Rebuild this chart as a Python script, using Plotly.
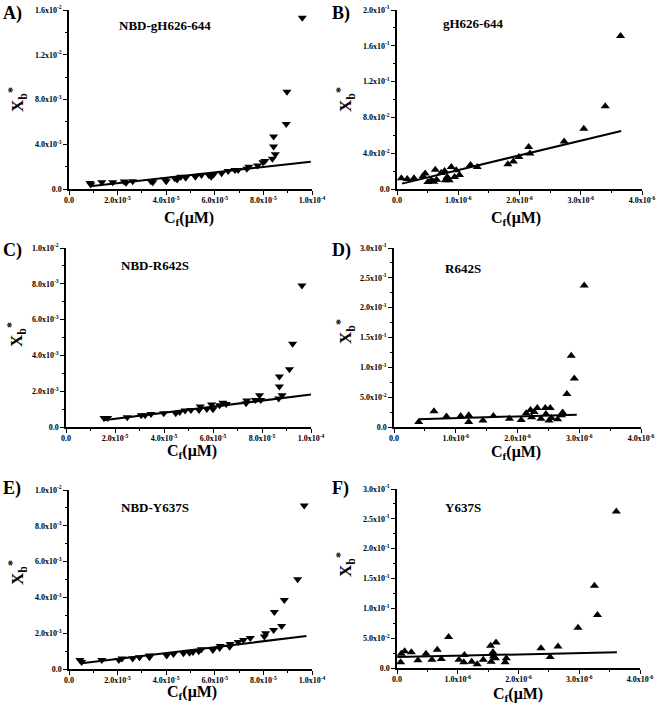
import plotly.graph_objects as go

# ---------------- data ----------------
panel_letters = ["A)", "B)", "C)", "D)", "E)", "F)"]
panel_titles = ["NBD-gH626-644", "gH626-644", "NBD-R642S", "R642S", "NBD-Y637S", "Y637S"]

a_x = [0.865e-5, 0.9e-5, 1.35e-5, 1.8e-5, 2.27e-5, 2.35e-5, 2.62e-5, 3.37e-5, 3.45e-5, 3.95e-5,
       4.0e-5, 4.35e-5, 4.45e-5, 4.6e-5, 4.8e-5, 5.2e-5, 5.45e-5, 5.75e-5, 5.85e-5, 5.95e-5,
       6.28e-5, 6.55e-5, 6.83e-5, 6.96e-5, 7.32e-5, 7.4e-5, 7.76e-5, 7.98e-5, 8.06e-5, 8.37e-5,
       8.42e-5, 8.42e-5, 8.49e-5, 8.94e-5, 8.97e-5, 9.6e-5]
a_y = [0.00054, 0.0004, 0.0006, 0.0006, 0.00066, 0.00055, 0.0007, 0.0007, 0.0006, 0.00084,
       0.0007, 0.00095, 0.00084, 0.0011, 0.001, 0.0011, 0.00125, 0.00125, 0.0011, 0.0013,
       0.0014, 0.0016, 0.0017, 0.0017, 0.0018, 0.002, 0.0021, 0.0024, 0.0025, 0.0027,
       0.0038, 0.0047, 0.0031, 0.0058, 0.0087, 0.0153]

b_x = [0.07e-6, 0.168e-6, 0.277e-6, 0.424e-6, 0.46e-6, 0.505e-6, 0.56e-6, 0.6e-6, 0.625e-6, 0.647e-6,
       0.72e-6, 0.777e-6, 0.788e-6, 0.82e-6, 0.853e-6, 0.886e-6, 0.94e-6, 0.967e-6, 1.02e-6, 1.2e-6,
       1.31e-6, 1.81e-6, 1.9e-6, 1.99e-6, 2.15e-6, 2.17e-6, 2.73e-6, 3.05e-6, 3.4e-6, 3.65e-6]
b_y = [0.0119, 0.0112, 0.0119, 0.0142, 0.0172, 0.0078, 0.0097, 0.0082, 0.0216, 0.0104,
       0.0179, 0.0201, 0.0097, 0.0134, 0.0097, 0.0246, 0.0134, 0.0209, 0.0157, 0.0269,
       0.0246, 0.0276, 0.0306, 0.0358, 0.047, 0.0396, 0.053, 0.0672, 0.0925, 0.1709]

c_x = [1.55e-5, 1.7e-5, 2.5e-5, 3.07e-5, 3.23e-5, 3.47e-5, 3.99e-5, 4.48e-5, 4.64e-5, 4.86e-5,
       5.1e-5, 5.43e-5, 5.48e-5, 5.75e-5, 5.94e-5, 6.0e-5, 6.27e-5, 6.4e-5, 6.54e-5, 7.35e-5,
       7.38e-5, 7.73e-5, 7.9e-5, 7.95e-5, 8.68e-5, 8.71e-5, 8.71e-5, 8.82e-5, 9.12e-5, 9.25e-5,
       9.63e-5]
c_y = [0.0005, 0.0005, 0.00054, 0.00065, 0.00065, 0.00073, 0.00077, 0.00077, 0.00084, 0.00092,
       0.00095, 0.00095, 0.00114, 0.001, 0.00125, 0.00099, 0.00121, 0.00136, 0.00129, 0.00133,
       0.00148, 0.00151, 0.00178, 0.00151, 0.00159, 0.00226, 0.00282, 0.00178, 0.00323, 0.00465,
       0.0079]

d_x = [0.4e-6, 0.647e-6, 0.85e-6, 1.08e-6, 1.21e-6, 1.21e-6, 1.44e-6, 1.61e-6, 1.87e-6, 2.06e-6,
       2.14e-6, 2.21e-6, 2.23e-6, 2.27e-6, 2.32e-6, 2.38e-6, 2.45e-6, 2.46e-6, 2.51e-6, 2.53e-6,
       2.55e-6, 2.65e-6, 2.71e-6, 2.73e-6, 2.8e-6, 2.87e-6, 2.92e-6, 3.08e-6]
d_y = [0.0084, 0.0264, 0.0174, 0.0185, 0.0196, 0.0084, 0.0107, 0.0185, 0.014, 0.0118,
       0.023, 0.0286, 0.0163, 0.0252, 0.032, 0.014, 0.032, 0.0219, 0.0107, 0.032,
       0.0151, 0.0129, 0.0196, 0.0241, 0.0555, 0.1194, 0.0813, 0.2372]

e_x = [0.45e-5, 0.52e-5, 1.35e-5, 2.05e-5, 2.18e-5, 2.62e-5, 2.9e-5, 3.31e-5, 3.31e-5, 4.02e-5,
       4.3e-5, 4.71e-5, 4.96e-5, 5.1e-5, 5.34e-5, 5.45e-5, 5.92e-5, 6.2e-5, 6.22e-5, 6.61e-5,
       6.63e-5, 6.96e-5, 7.18e-5, 7.46e-5, 8.04e-5, 8.09e-5, 8.42e-5, 8.45e-5, 8.75e-5, 8.86e-5,
       9.41e-5, 9.68e-5]
e_y = [0.0005, 0.00039, 0.0005, 0.0005, 0.00058, 0.00058, 0.00065, 0.00076, 0.00065, 0.00076,
       0.00084, 0.00088, 0.00091, 0.00095, 0.00099, 0.0011, 0.00106, 0.00117, 0.00128, 0.00125,
       0.0014, 0.00151, 0.00162, 0.00173, 0.00181, 0.002, 0.00218, 0.00318, 0.0024, 0.00385,
       0.00501, 0.00914]

f_x = [0.06e-6, 0.07e-6, 0.126e-6, 0.236e-6, 0.345e-6, 0.477e-6, 0.575e-6, 0.663e-6, 0.729e-6, 0.849e-6,
       1.02e-6, 1.1e-6, 1.11e-6, 1.23e-6, 1.32e-6, 1.42e-6, 1.54e-6, 1.55e-6, 1.58e-6, 1.59e-6,
       1.62e-6, 1.63e-6, 1.78e-6, 1.8e-6, 2.37e-6, 2.52e-6, 2.65e-6, 2.98e-6, 3.25e-6, 3.3e-6,
       3.61e-6]
f_y = [0.0095, 0.024, 0.0279, 0.0262, 0.0128, 0.024, 0.0139, 0.0307, 0.0151, 0.0519,
       0.0139, 0.0095, 0.0217, 0.0106, 0.0061, 0.0139, 0.0374, 0.0106, 0.0262, 0.0195,
       0.0162, 0.0429, 0.0095, 0.0162, 0.0329, 0.0184, 0.0362, 0.0675, 0.1377, 0.0887,
       0.2621]

# linear fits (intercept, slope) and fitted x-span
fit_intercept = [0.000031, 0.00466, 0.000116, 0.01168, 0.000231, 0.0184]
fit_slope = [24.2, 16460.0, 16.97, 3047.0, 16.5, 2158.0]
fit_x_start = [0.865e-5, 0.0815e-6, 1.52e-5, 0.4e-6, 0.52e-5, 0.005e-6]
fit_x_end = [9.95e-5, 3.66e-6, 1.0e-4, 2.96e-6, 9.77e-5, 3.62e-6]

# tick labels
xt_nbd_vals = [0, 2e-5, 4e-5, 6e-5, 8e-5, 1e-4]
xt_nbd_text = ["0.0", "2.0x10<sup>-5</sup>", "4.0x10<sup>-5</sup>", "6.0x10<sup>-5</sup>",
               "8.0x10<sup>-5</sup>", "1.0x10<sup>-4</sup>"]
xt_pep_vals = [0, 1e-6, 2e-6, 3e-6, 4e-6]
xt_pep_text = ["0.0", "1.0x10<sup>-6</sup>", "2.0x10<sup>-6</sup>", "3.0x10<sup>-6</sup>",
               "4.0x10<sup>-6</sup>"]
yt_a_vals = [0, 0.004, 0.008, 0.012, 0.016]
yt_a_text = ["0.0", "4.0x10<sup>-3</sup>", "8.0x10<sup>-3</sup>", "1.2x10<sup>-2</sup>",
             "1.6x10<sup>-2</sup>"]
yt_b_vals = [0, 0.04, 0.08, 0.12, 0.16, 0.2]
yt_b_text = ["0.0", "4.0x10<sup>-2</sup>", "8.0x10<sup>-2</sup>", "1.2x10<sup>-1</sup>",
             "1.6x10<sup>-1</sup>", "2.0x10<sup>-1</sup>"]
yt_ce_vals = [0, 0.002, 0.004, 0.006, 0.008, 0.01]
yt_ce_text = ["0.0", "2.0x10<sup>-3</sup>", "4.0x10<sup>-3</sup>", "6.0x10<sup>-3</sup>",
              "8.0x10<sup>-3</sup>", "1.0x10<sup>-2</sup>"]
yt_df_vals = [0, 0.05, 0.1, 0.15, 0.2, 0.25, 0.3]
yt_df_text = ["0.0", "5.0x10<sup>-2</sup>", "1.0x10<sup>-1</sup>", "1.5x10<sup>-1</sup>",
              "2.0x10<sup>-1</sup>", "2.5x10<sup>-1</sup>", "3.0x10<sup>-1</sup>"]

# ---------------- layout geometry (pixels) ----------------
W, H = 656, 705
FONT = "Liberation Serif, Times New Roman, serif"

panels = [
    dict(x=a_x, y=a_y, sym="triangle-down", xr=[0, 1e-4], yr=[0, 0.016],
         xt=(xt_nbd_vals, xt_nbd_text), yt=(yt_a_vals, yt_a_text),
         box=(69, 312, 10, 189), letter=(1, 13), title=(165, 25), ylab=(18, 100), xlab=(189, 218)),
    dict(x=b_x, y=b_y, sym="triangle-up", xr=[0, 4e-6], yr=[0, 0.2],
         xt=(xt_pep_vals, xt_pep_text), yt=(yt_b_vals, yt_b_text),
         box=(397, 642, 10, 189), letter=(330, 13), title=(473, 23), ylab=(346, 100), xlab=(516, 218)),
    dict(x=c_x, y=c_y, sym="triangle-down", xr=[0, 1e-4], yr=[0, 0.01],
         xt=(xt_nbd_vals, xt_nbd_text), yt=(yt_ce_vals, yt_ce_text),
         box=(66, 311, 248, 427), letter=(1, 250), title=(155, 265), ylab=(16, 335), xlab=(192, 451)),
    dict(x=d_x, y=d_y, sym="triangle-up", xr=[0, 4e-6], yr=[0, 0.3],
         xt=(xt_pep_vals, xt_pep_text), yt=(yt_df_vals, yt_df_text),
         box=(394, 641, 248, 427), letter=(330, 250), title=(463, 268), ylab=(345, 332), xlab=(516, 452)),
    dict(x=e_x, y=e_y, sym="triangle-down", xr=[0, 1e-4], yr=[0, 0.01],
         xt=(xt_nbd_vals, xt_nbd_text), yt=(yt_ce_vals, yt_ce_text),
         box=(69, 312, 490, 669), letter=(1, 488), title=(155, 507), ylab=(17, 573), xlab=(192, 692)),
    dict(x=f_x, y=f_y, sym="triangle-up", xr=[0, 4e-6], yr=[0, 0.3],
         xt=(xt_pep_vals, xt_pep_text), yt=(yt_df_vals, yt_df_text),
         box=(397, 640, 489, 668), letter=(330, 488), title=(463, 507), ylab=(345, 565), xlab=(518, 694)),
]

fig = go.Figure()
layout = dict(template="none", width=W, height=H, margin=dict(l=0, r=0, t=0, b=0, pad=0),
              paper_bgcolor="white", plot_bgcolor="white", showlegend=False,
              font=dict(family=FONT, color="black"))
annotations = []

for i, p in enumerate(panels):
    n = "" if i == 0 else str(i + 1)
    xa, ya = "x" + n, "y" + n
    x0, x1, y0, y1 = p["box"]
    fig.add_trace(go.Scatter(x=p["x"], y=p["y"], mode="markers", xaxis=xa, yaxis=ya,
                             marker=dict(symbol=p["sym"], size=8, color="black",
                                         line=dict(width=0))))
    fx = [fit_x_start[i], fit_x_end[i]]
    fy = [fit_intercept[i] + fit_slope[i] * v for v in fx]
    fig.add_trace(go.Scatter(x=fx, y=fy, mode="lines", xaxis=xa, yaxis=ya,
                             line=dict(color="black", width=2)))
    common = dict(showgrid=False, zeroline=False, showline=True, linecolor="black", linewidth=1.5,
                  ticks="outside", ticklen=4, tickwidth=1.2, tickcolor="black", automargin=False,
                  tickfont=dict(family=FONT, size=8, color="black", weight="bold"),
                  tickmode="array")
    layout["xaxis" + n] = dict(common, domain=[x0 / W, x1 / W], range=p["xr"], anchor=ya,
                               tickvals=p["xt"][0], ticktext=p["xt"][1], ticklabelstandoff=-1,
                               minor=dict(ticks="outside", ticklen=2.5, tickcolor="black",
                                          tickvals=[(a + b) / 2 for a, b in zip(p["xt"][0][:-1], p["xt"][0][1:])]))
    layout["yaxis" + n] = dict(common, domain=[1 - y1 / H, 1 - y0 / H], range=p["yr"], anchor=xa,
                               tickvals=p["yt"][0], ticktext=p["yt"][1],
                               minor=dict(ticks="outside", ticklen=2.5, tickcolor="black",
                                          tickvals=[(a + b) / 2 for a, b in zip(p["yt"][0][:-1], p["yt"][0][1:])]))
    annotations.append(dict(text="<b>" + panel_letters[i] + "</b>", xref="paper", yref="paper",
                            x=p["letter"][0] / W, y=1 - p["letter"][1] / H, xanchor="left",
                            yanchor="middle", showarrow=False,
                            font=dict(family=FONT, size=18, color="black")))
    annotations.append(dict(text="<b>" + panel_titles[i] + "</b>", xref="paper", yref="paper",
                            x=p["title"][0] / W, y=1 - p["title"][1] / H, xanchor="center",
                            yanchor="middle", showarrow=False,
                            font=dict(family=FONT, size=13, color="black")))
    annotations.append(dict(text="<b>X<sub>b</sub><sup>*</sup></b>", xref="paper", yref="paper",
                            x=p["ylab"][0] / W, y=1 - p["ylab"][1] / H, xanchor="center",
                            yanchor="middle", showarrow=False, textangle=-90,
                            font=dict(family=FONT, size=17, color="black")))
    annotations.append(dict(text="<b>C<sub>f</sub>(μM)</b>", xref="paper", yref="paper",
                            x=p["xlab"][0] / W, y=1 - p["xlab"][1] / H, xanchor="center",
                            yanchor="middle", showarrow=False,
                            font=dict(family=FONT, size=16, color="black")))

layout["annotations"] = annotations
fig.update_layout(**layout)
fig.write_html("out.html", config={"displayModeBar": False},
               post_script="document.body.style.margin='0';document.body.style.overflow='hidden';")
